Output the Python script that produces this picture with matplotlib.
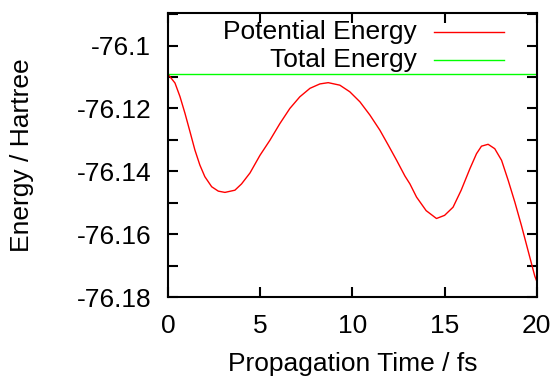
import matplotlib
matplotlib.use('Agg')
import matplotlib.pyplot as plt
from matplotlib.ticker import MultipleLocator, FormatStrFormatter

plt.rcParams['font.family'] = ['Liberation Sans', 'DejaVu Sans']

# values
time_fs = [0.00, 0.38, 0.65, 0.92, 1.19, 1.46, 1.73, 2.00, 2.37, 2.73,
           3.09, 3.63, 3.99, 4.45, 4.99, 5.53, 6.07, 6.61, 7.15, 7.70,
           8.24, 8.69, 9.32, 9.86, 10.41, 10.95, 11.49, 11.95, 12.40, 12.85,
           13.12, 13.48, 14.00, 14.56, 15.00, 15.46, 15.90, 16.37, 16.73, 17.00,
           17.36, 17.72, 18.09, 18.45, 18.81, 19.17, 19.53, 19.89, 20.00]
potential = [-76.1091, -76.1119, -76.1162, -76.1215, -76.1273, -76.1332, -76.1380, -76.1417, -76.1449, -76.1463,
             -76.1467, -76.1460, -76.1440, -76.1405, -76.1349, -76.1301, -76.1248, -76.1200, -76.1163, -76.1136,
             -76.1122, -76.1118, -76.1126, -76.1147, -76.1179, -76.1221, -76.1269, -76.1317, -76.1365, -76.1415,
             -76.1440, -76.1482, -76.1525, -76.1550, -76.1540, -76.1514, -76.1460, -76.1392, -76.1344, -76.1320,
             -76.1314, -76.1328, -76.1365, -76.1429, -76.1498, -76.1573, -76.1653, -76.1733, -76.1750]
total_time = [0.0, 20.0]
total = [-76.1091, -76.1091]

fig = plt.figure(figsize=(5.58, 3.78), dpi=100)
ax = fig.add_axes([0.301, 0.214, 0.661, 0.752])

ax.plot(time_fs, potential, color='#ff0000', lw=1.0)
ax.plot(total_time, total, color='#00ff00', lw=1.0)

ax.set_xlim(0, 20)
ax.set_ylim(-76.18, -76.0896)
ax.xaxis.set_major_locator(MultipleLocator(5))
ax.yaxis.set_major_locator(MultipleLocator(0.02))
ax.yaxis.set_minor_locator(MultipleLocator(0.01))
ax.yaxis.set_major_formatter(FormatStrFormatter('%g'))

ax.tick_params(which='both', direction='in', top=True, right=True,
               length=7, width=1.5, labelsize=19, pad=12)
for s in ax.spines.values():
    s.set_linewidth(1.5)

ax.set_xlabel('Propagation Time / fs', fontsize=19)
ax.set_ylabel('Energy / Hartree', fontsize=19)
ax.xaxis.set_label_coords(0.5, -0.194)
ax.yaxis.set_label_coords(-0.363, 0.5)

# gnuplot-style key: right-justified text, sample line to the right
key = [('Potential Energy', '#ff0000', 0.933), ('Total Energy', '#00ff00', 0.835)]
for label, c, yk in key:
    ax.text(0.675, yk, label, transform=ax.transAxes, ha='right', va='center', fontsize=19)
    ax.plot([0.721, 0.911], [yk, yk], transform=ax.transAxes, color=c, lw=1.0)

fig.savefig('out.png', dpi=100)
